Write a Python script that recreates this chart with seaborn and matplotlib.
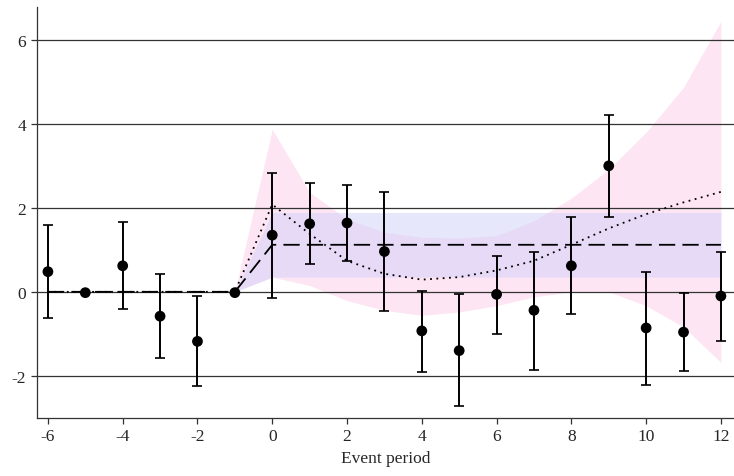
import numpy as np
import pandas as pd
import matplotlib
matplotlib.use("Agg")
import matplotlib.pyplot as plt
import seaborn as sns

# event study estimates
periods = [-6, -5, -4, -3, -2, -1, 0, 1, 2, 3, 4, 5, 6, 7, 8, 9, 10, 11, 12]
coef = [0.48, -0.02, 0.62, -0.58, -1.18, -0.02, 1.35, 1.62, 1.64, 0.96, -0.93, -1.40,
        -0.06, -0.44, 0.62, 3.00, -0.86, -0.96, -0.10]
ci_low = [-0.62, np.nan, -0.40, -1.57, -2.25, np.nan, -0.14, 0.67, 0.73, -0.46, -1.90, -2.73,
          -1.00, -1.85, -0.52, 1.77, -2.21, -1.89, -1.17]
ci_high = [1.59, np.nan, 1.67, 0.43, -0.11, np.nan, 2.83, 2.59, 2.54, 2.37, 0.03, -0.06,
           0.86, 0.96, 1.77, 4.21, 0.48, -0.03, 0.96]

# constant (static) effect and its band
static_x = [-6, -5, -4, -3, -2, -1, 0, 1, 2, 3, 4, 5, 6, 7, 8, 9, 10, 11, 12]
static_fit = [0, 0, 0, 0, 0, 0, 1.12, 1.12, 1.12, 1.12, 1.12, 1.12, 1.12, 1.12, 1.12, 1.12, 1.12, 1.12, 1.12]
band_x = [-1, 0, 1, 2, 3, 4, 5, 6, 7, 8, 9, 10, 11, 12]
static_low = [0, 0.35, 0.35, 0.35, 0.35, 0.35, 0.35, 0.35, 0.35, 0.35, 0.35, 0.35, 0.35, 0.35]
static_high = [0, 1.89, 1.89, 1.89, 1.89, 1.89, 1.89, 1.89, 1.89, 1.89, 1.89, 1.89, 1.89, 1.89]

# polynomial effect and its band
poly_fit = [0, 0, 0, 0, 0, 0, 2.08, 1.38, 0.74, 0.43, 0.29, 0.35, 0.51, 0.74, 1.12, 1.51,
            1.85, 2.13, 2.38]
poly_low = [0, 0.35, 0.15, -0.21, -0.44, -0.56, -0.48, -0.33, -0.12, 0.0, 0.0, -0.33, -0.84, -1.68]
poly_high = [0, 3.87, 2.37, 1.73, 1.42, 1.30, 1.28, 1.34, 1.69, 2.23, 2.92, 3.80, 4.87, 6.44]

df = pd.DataFrame({"period": periods, "coef": coef})
lines = pd.DataFrame({"period": static_x, "static": static_fit, "poly": poly_fit})

sns.set_style("white")
plt.rcParams["font.family"] = ["Liberation Serif", "DejaVu Serif"]
plt.rcParams["axes.unicode_minus"] = False

fig = plt.figure(figsize=(7.34, 4.77), dpi=100)
ax = fig.add_axes([0.050, 0.122, 0.95, 0.861])

ax.fill_between(band_x, poly_low, poly_high, color="#fde5f3", linewidth=0, zorder=1)
ax.fill_between(band_x, static_low, static_high, color="#d1d1fb", alpha=0.5, linewidth=0, zorder=1)

for yv in [-2, 0, 2, 4, 6]:
    ax.axhline(yv, color="#333333", linewidth=0.9, zorder=2)

sns.lineplot(data=lines, x="period", y="static", ax=ax, color="black", linewidth=1.3,
             zorder=3)
ax.lines[-1].set_dashes([9, 4])
sns.lineplot(data=lines, x="period", y="poly", ax=ax, color="black", linewidth=1.3,
             zorder=3)
ax.lines[-1].set_linestyle((0, (1, 2.5)))

c = np.array(coef)
lo = np.array(ci_low)
hi = np.array(ci_high)
ax.errorbar(periods, c, yerr=[c - lo, hi - c], fmt="none", ecolor="black",
            elinewidth=1.4, capsize=3.5, capthick=1.2, zorder=4)
sns.scatterplot(data=df, x="period", y="coef", ax=ax, color="black", s=60,
                edgecolor="none", zorder=5)

ax.set_xlim(-6.3, 12.35)
ax.set_ylim(-3.0, 6.78)
ax.set_xticks(range(-6, 13, 2))
ax.set_yticks([-2, 0, 2, 4, 6])
ax.set_xlabel("Event period", fontsize=12.5)
ax.set_ylabel("")
ax.tick_params(axis="both", labelsize=12.5, direction="out", length=4, width=0.9,
               color="#333333", left=True, bottom=True)
for s in ["top", "right"]:
    ax.spines[s].set_visible(False)
for s in ["left", "bottom"]:
    ax.spines[s].set_color("#333333")
    ax.spines[s].set_linewidth(0.9)

fig.savefig("out.png", dpi=100)
